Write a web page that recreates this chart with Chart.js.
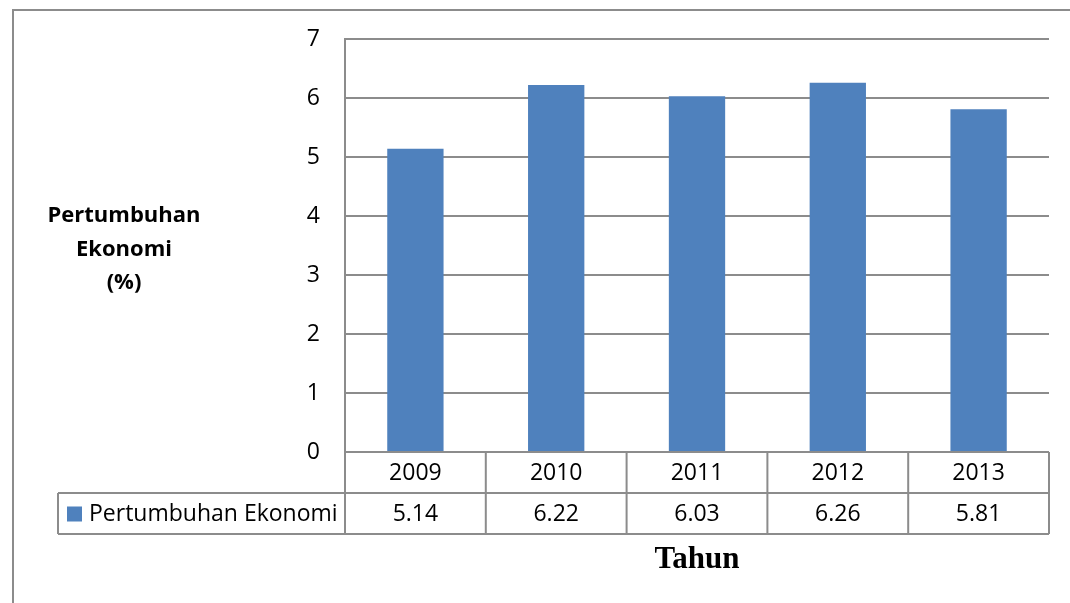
<!DOCTYPE html>
<html>
<head>
<meta charset="utf-8">
<script src="https://cdn.jsdelivr.net/npm/chart.js@4"></script>
<style>
  html, body { margin: 0; padding: 0; background: #ffffff; }
  #wrap { width: 1070px; height: 603px; position: relative; }
</style>
</head>
<body>
<div id="wrap"><canvas id="chart" width="1070" height="603"></canvas></div>
<script>
// Economic growth by year
const years = ['2009', '2010', '2011', '2012', '2013'];
const growth = [5.14, 6.22, 6.03, 6.26, 5.81];
const seriesName = 'Pertumbuhan Ekonomi';
const yAxisTitle = ['Pertumbuhan', 'Ekonomi', '(%)'];
const xAxisTitle = 'Tahun';
const yMin = 0, yMax = 7, yStep = 1;

const BAR = '#4F81BD';
const LINE = '#8c8c8c';
const FONT = '"Open Sans", "Noto Sans", sans-serif';

// Data table under the plot, the axis titles and the frame
const tablePlugin = {
  id: 'dataTable',
  afterDraw(chart) {
    const ctx = chart.ctx;
    const xs = chart.scales.x;
    const area = chart.chartArea;
    const n = years.length;
    const half = (xs.getPixelForValue(1) - xs.getPixelForValue(0)) / 2;
    const left = area.left, right = area.right;
    const row0 = area.bottom;
    const row1 = row0 + 41;
    const row2 = row1 + 41;
    const legendLeft = 58;

    ctx.save();
    ctx.strokeStyle = LINE;
    ctx.lineWidth = 2;
    ctx.beginPath();
    // horizontal rules
    ctx.moveTo(left, row0); ctx.lineTo(right, row0);
    ctx.moveTo(legendLeft, row1); ctx.lineTo(right, row1);
    ctx.moveTo(legendLeft, row2); ctx.lineTo(right, row2);
    // vertical rules
    ctx.moveTo(legendLeft, row1); ctx.lineTo(legendLeft, row2);
    ctx.moveTo(left, area.top); ctx.lineTo(left, row2);
    for (let i = 0; i < n; i++) {
      const xr = xs.getPixelForValue(i) + half;
      ctx.moveTo(xr, row0); ctx.lineTo(xr, row2);
    }
    ctx.stroke();

    // category and value cells
    ctx.fillStyle = '#000';
    ctx.font = '23px ' + FONT;
    ctx.textAlign = 'center';
    ctx.textBaseline = 'middle';
    for (let i = 0; i < n; i++) {
      const cx = xs.getPixelForValue(i);
      ctx.fillText(years[i], cx, (row0 + row1) / 2 + 1);
      ctx.fillText(growth[i].toFixed(2), cx, (row1 + row2) / 2 + 1);
    }

    // legend key in the table
    ctx.fillStyle = BAR;
    ctx.fillRect(67, (row1 + row2) / 2 - 7, 15, 15);
    ctx.fillStyle = '#000';
    ctx.textAlign = 'left';
    ctx.fillText(seriesName, 89, (row1 + row2) / 2 + 1);

    // vertical axis title
    ctx.font = 'bold 22px ' + FONT;
    ctx.textAlign = 'center';
    ctx.textBaseline = 'alphabetic';
    yAxisTitle.forEach((t, i) => ctx.fillText(t, 124, 222 + i * 33.5));

    // horizontal axis title
    ctx.font = 'bold 31px "Liberation Serif", "Times New Roman", serif';
    ctx.fillText(xAxisTitle, 697, 568);

    // outer frame
    ctx.beginPath();
    ctx.moveTo(13, 603); ctx.lineTo(13, 10); ctx.lineTo(1070, 10);
    ctx.stroke();
    ctx.restore();
  }
};

new Chart(document.getElementById('chart'), {
  type: 'bar',
  data: {
    labels: years,
    datasets: [{
      label: seriesName,
      data: growth,
      backgroundColor: BAR,
      borderWidth: 0,
      categoryPercentage: 1.0,
      barPercentage: 0.4
    }]
  },
  options: {
    responsive: false,
    animation: false,
    devicePixelRatio: 1,
    layout: { padding: { left: 0, top: 39, right: 21, bottom: 151 } },
    plugins: { legend: { display: false }, tooltip: { enabled: false } },
    scales: {
      x: { display: false },
      y: {
        min: yMin,
        max: yMax,
        afterFit(scale) { scale.width = 345; },
        ticks: {
          stepSize: yStep,
          padding: 25,
          color: '#000',
          font: { family: FONT, size: 23 }
        },
        grid: { color: LINE, lineWidth: 2, drawTicks: false },
        border: { display: true, color: LINE, width: 2 }
      }
    }
  },
  plugins: [tablePlugin]
});
</script>
</body>
</html>
